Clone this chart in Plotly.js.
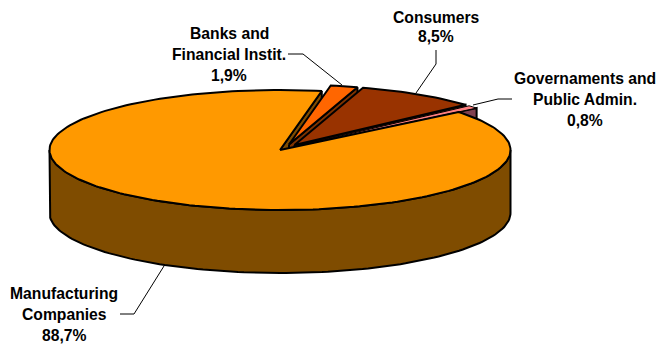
<!DOCTYPE html>
<html>
<head>
<meta charset="utf-8">
<script src="https://cdn.plot.ly/plotly-3.0.1.min.js"></script>
<style>html,body{margin:0;padding:0;background:#fff}#chart{width:656px;height:345px}</style>
</head>
<body>
<div id="chart"></div>
<script>
// Customer sectors, share of the total in percent
const sectors = ['Manufacturing Companies', 'Banks and Financial Instit.', 'Consumers', 'Governaments and Public Admin.'];
const shares = [88.7, 1.9, 8.5, 0.8];
const labelLines = [['Manufacturing', 'Companies'], ['Banks and', 'Financial Instit.'], ['Consumers'], ['Governaments and', 'Public Admin.']];
const topColors = ['#FF9900', '#FF6600', '#993300', '#FF8080'];
const sideColors = ['#7F4C00', '#803300', '#4D1A00', '#804050'];
// How far each wedge is pulled away from the disc centre, in page pixels
const pullOut = [[0, 0], [9, -5.5], [14.5, -5], [18, -4]];
const labelCentres = [[64, 293], [229, 33], [436, 17], [585, 78]];
const lineSteps = [21, 21, 19, 21];
const leaders = [
  [[120, 314], [134, 314], [164, 266]],
  [[288, 54], [303, 54], [342, 85]],
  [[436, 50], [436, 64], [416, 93]],
  [[512, 99], [498, 99], [473, 105]]
];

// Oblique projection of the disc onto the page, in page pixels
const cx = 280, cy = 150, rx = 230.5, ry = 60, depth = 63;
const startAngle = 50.8;
const rad = d => d * Math.PI / 180;
const onRim = (c, a, drop = 0) => [c[0] + rx * Math.sin(rad(a)), c[1] - ry * Math.cos(rad(a)) + drop];

function arc(c, a0, a1, drop = 0) {
  const n = Math.max(2, Math.ceil(Math.abs(a1 - a0) / 1.5));
  const out = [];
  for (let i = 0; i <= n; i++) out.push(onRim(c, a0 + (a1 - a0) * i / n, drop));
  return out;
}

const total = shares.reduce((s, v) => s + v, 0);
let running = startAngle;
const slices = shares.map((v, i) => {
  const a0 = running, a1 = running + v / total * 360;
  running = a1;
  return {i, a0, a1, c: [cx + pullOut[i][0], cy + pullOut[i][1]]};
});

const traces = [];
function polygon(points, fill, width = 2) {
  traces.push({
    type: 'scatter', mode: 'lines', hoverinfo: 'skip', showlegend: false,
    x: points.map(p => p[0]).concat(points[0][0]),
    y: points.map(p => p[1]).concat(points[0][1]),
    fill: 'toself', fillcolor: fill,
    line: {color: '#000', width, shape: 'linear'}
  });
}

// Cut faces run straight down from a radius; the visible one depends on the slice side
function cutFace(c, a, fill) {
  const r = onRim(c, a);
  polygon([c, r, [r[0], r[1] + depth], [c[0], c[1] + depth]], fill);
}
function rimWall(s, a0, a1) {
  polygon(arc(s.c, a0, a1).concat(arc(s.c, a1, a0, depth)), sideColors[s.i]);
}
function topFace(s, width) {
  polygon([s.c].concat(arc(s.c, s.a0, s.a1)), topColors[s.i], width);
}

// Back-to-front painting: detached wedges first, then the large body
const [body, banks, consumers, gov] = slices;
cutFace(body.c, body.a1, sideColors[0]);
cutFace(banks.c, banks.a1, sideColors[1]);
topFace(banks);
cutFace(consumers.c, consumers.a1, sideColors[2]);
topFace(consumers);
cutFace(gov.c, gov.a1, sideColors[3]);
// The thinnest wedge gets a finer outline so its colour still shows
topFace(gov, 1);
rimWall(body, 90, 270);
topFace(body);

// Leader lines from the labels to their slices
leaders.forEach(pts => traces.push({
  type: 'scatter', mode: 'lines', hoverinfo: 'skip', showlegend: false,
  x: pts.map(p => p[0]), y: pts.map(p => p[1]),
  line: {color: '#000', width: 1}
}));

const percent = v => v.toFixed(1).replace('.', ',') + '%';
const annotations = [];
sectors.forEach((name, i) => {
  labelLines[i].concat(percent(shares[i])).forEach((text, k) => {
    annotations.push({
      xref: 'x', yref: 'y', x: labelCentres[i][0], y: labelCentres[i][1] + k * lineSteps[i],
      text: '<b>' + text + '</b>', showarrow: false, xanchor: 'center', yanchor: 'middle',
      font: {family: 'Liberation Sans, Arial, sans-serif', size: 15.7, color: '#000'}
    });
  });
});

Plotly.newPlot('chart', traces, {
  width: 656, height: 345,
  margin: {l: 0, r: 0, t: 0, b: 0},
  paper_bgcolor: '#fff', plot_bgcolor: '#fff',
  showlegend: false,
  xaxis: {range: [0, 656], visible: false, fixedrange: true},
  yaxis: {range: [345, 0], visible: false, fixedrange: true},
  annotations
}, {displayModeBar: false, staticPlot: true});
</script>
</body>
</html>
